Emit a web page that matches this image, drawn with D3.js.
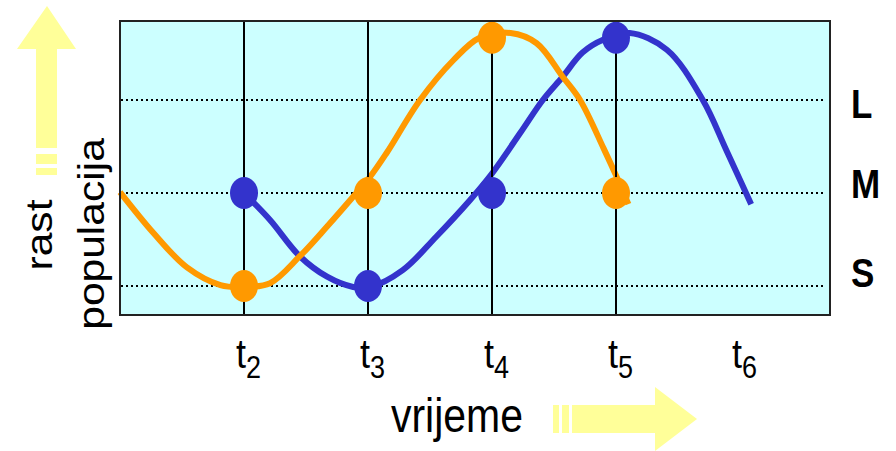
<!DOCTYPE html>
<html>
<head>
<meta charset="utf-8">
<script src="https://cdn.jsdelivr.net/npm/d3@7"></script>
<style>
  html, body { margin: 0; padding: 0; background: #ffffff; }
  svg { display: block; }
  text { font-family: "Liberation Sans", Arial, sans-serif; fill: #000; }
</style>
</head>
<body>
<svg id="chart" width="896" height="451"></svg>
<script>
// Time steps shown under the plot (t2 … t6)
const tickSteps = [2, 3, 4, 5, 6];
// Population levels: small, medium, large
const levelNames = ["S", "M", "L"];
const levelValues = [1, 2, 3];

// Orange population: [time step, level]
const orangeCurve = [
  [1.00, 2.01], [1.27, 1.57], [1.54, 1.20], [1.81, 1.01], [2.00, 0.99],
  [2.21, 1.03], [2.45, 1.32], [2.67, 1.64], [2.88, 1.96], [3.02, 2.18],
  [3.15, 2.43], [3.42, 3.00], [3.69, 3.43], [3.90, 3.67], [4.15, 3.72],
  [4.36, 3.61], [4.57, 3.25], [4.71, 3.00], [4.90, 2.48], [5.01, 2.16],
  [5.10, 1.88]
];
// Blue population: [time step, level]
const blueCurve = [
  [2.00, 2.00], [2.21, 1.71], [2.45, 1.32], [2.67, 1.10], [2.88, 0.99],
  [3.02, 0.99], [3.28, 1.17], [3.55, 1.53], [3.82, 1.92], [4.00, 2.21],
  [4.23, 2.65], [4.41, 3.00], [4.57, 3.25], [4.73, 3.51], [4.90, 3.65],
  [5.11, 3.72], [5.41, 3.54], [5.70, 3.00], [5.89, 2.46], [6.09, 1.88]
];
// Marked states at each time step
const orangeMarks = [[2, 1], [3, 2], [4, 3.67], [5, 2]];
const blueMarks = [[2, 2], [3, 1], [4, 2], [5, 3.67]];

const ORANGE = "#ff9900";
const BLUE = "#3333cc";
const YELLOW = "#ffff99";
const TEXT_STRETCH = 1.15;

const svg = d3.select("#chart");

const frame = { left: 120, right: 830, top: 21, bottom: 315 };
const x = d3.scaleLinear().domain([1, 6]).range([120, 740]);
const y = d3.scaleLinear().domain([1, 3]).range([286, 100]);

// plot background
svg.append("rect")
  .attr("x", frame.left).attr("y", frame.top)
  .attr("width", frame.right - frame.left).attr("height", frame.bottom - frame.top)
  .attr("fill", "#ccffff");

// dotted level guides
svg.append("g").selectAll("line").data(levelValues).join("line")
  .attr("x1", frame.left + 1).attr("x2", frame.right - 4)
  .attr("y1", d => y(d)).attr("y2", d => y(d))
  .attr("stroke", "#000").attr("stroke-width", 2)
  .attr("stroke-dasharray", "2,3");

// population curves
const line = d3.line()
  .x(d => x(d[0])).y(d => y(d[1]))
  .curve(d3.curveCatmullRom.alpha(0.5));

svg.append("path").datum(blueCurve)
  .attr("d", line).attr("fill", "none")
  .attr("stroke", BLUE).attr("stroke-width", 6);
svg.append("path").datum(orangeCurve)
  .attr("d", line).attr("fill", "none")
  .attr("stroke", ORANGE).attr("stroke-width", 6);

// time step verticals
svg.append("g").selectAll("line").data(tickSteps.filter(t => t < 6)).join("line")
  .attr("x1", d => x(d)).attr("x2", d => x(d))
  .attr("y1", frame.top).attr("y2", frame.bottom)
  .attr("stroke", "#000").attr("stroke-width", 2);

// state markers
function marks(data, color) {
  svg.append("g").selectAll("ellipse").data(data).join("ellipse")
    .attr("cx", d => x(d[0])).attr("cy", d => y(d[1]))
    .attr("rx", 14).attr("ry", 16)
    .attr("fill", color);
}
marks(blueMarks, BLUE);
marks(orangeMarks, ORANGE);

// frame
svg.append("rect")
  .attr("x", frame.left).attr("y", frame.top)
  .attr("width", frame.right - frame.left).attr("height", frame.bottom - frame.top)
  .attr("fill", "none").attr("stroke", "#222").attr("stroke-width", 2);

// level labels on the right
const levelNudge = { S: -13, M: -9, L: 4 };
svg.append("g").selectAll("text").data(levelNames).join("text")
  .attr("transform", (d, i) =>
    `translate(851,${y(levelValues[i]) + levelNudge[d]}) scale(1,${TEXT_STRETCH})`)
  .attr("dy", "0.36em")
  .attr("font-size", 35).attr("font-weight", "bold")
  .text(d => d);

// time tick labels
const tickG = svg.append("g").selectAll("g").data(tickSteps).join("g")
  .attr("transform", d => `translate(${x(d) - 8},368) scale(1,${TEXT_STRETCH})`);
tickG.append("text").attr("font-size", 36).text("t")
  .append("tspan").attr("font-size", 27).attr("dy", 9).text(d => d);

// axis titles
svg.append("text")
  .attr("transform", `translate(457,432) scale(1,${TEXT_STRETCH})`)
  .attr("text-anchor", "middle").attr("font-size", 41)
  .text("vrijeme");

svg.append("g")
  .attr("transform", `translate(52,235) scale(1,${TEXT_STRETCH}) rotate(-90)`)
  .append("text").attr("text-anchor", "middle").attr("font-size", 37)
  .text("rast");
svg.append("g")
  .attr("transform", `translate(104,234) scale(1,${TEXT_STRETCH}) rotate(-90)`)
  .append("text").attr("text-anchor", "middle").attr("font-size", 37)
  .text("populacija");

// growth arrow (up)
const up = svg.append("g").attr("fill", YELLOW);
up.append("polygon")
  .attr("points", "47,6 76,49 57,49 57,148 36,148 36,49 17,49");
up.append("rect").attr("x", 36).attr("y", 154).attr("width", 21).attr("height", 10);
up.append("rect").attr("x", 36).attr("y", 168).attr("width", 21).attr("height", 7);

// time arrow (right)
const right = svg.append("g").attr("fill", YELLOW);
right.append("polygon")
  .attr("points", "572,405 655,405 655,387 697,419 655,451 655,433 572,433");
right.append("rect").attr("x", 553).attr("y", 405).attr("width", 6).attr("height", 28);
right.append("rect").attr("x", 562).attr("y", 405).attr("width", 7).attr("height", 28);
</script>
</body>
</html>
